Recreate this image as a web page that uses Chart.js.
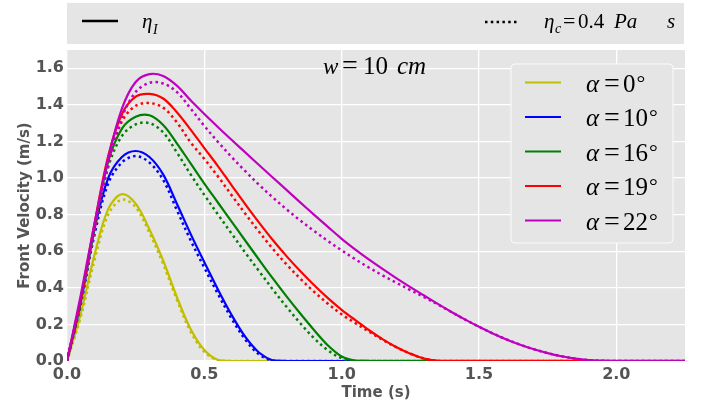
<!DOCTYPE html>
<html lang="en">
<head>
<meta charset="UTF-8">
<title>Front Velocity</title>
<script src="https://cdn.jsdelivr.net/npm/chart.js@4.4.0/dist/chart.umd.min.js"></script>
<style>
    html, body { margin: 0; padding: 0; background: #fff; }
    #wrap { width: 704px; height: 405px; }
</style>
</head>
<body>
<div id="wrap"><canvas id="velChart" width="704" height="405"></canvas></div>
<script>
    // time axis (s)
    const timeS = [0, 0.05, 0.1, 0.15, 0.2, 0.25, 0.3, 0.35, 0.4, 0.45,
                   0.5, 0.55, 0.6, 0.65, 0.7, 0.75, 0.8, 0.85, 0.9, 0.95,
                   1.0, 1.05, 1.1, 1.15, 1.2, 1.25, 1.3, 1.35, 1.4, 1.45,
                   1.5, 1.55, 1.6, 1.65, 1.7, 1.75, 1.8, 1.85, 1.9, 1.95,
                   2.0, 2.05, 2.1, 2.15, 2.2, 2.25];

    const alphaDeg = [0, 10, 16, 19, 22];
    const lineColors = ['#bfbf00', '#0000ff', '#008000', '#ff0000', '#bf00bf'];

    // front velocity (m/s), eta_I (solid)
    const etaI_a0  = [0, 0.26, 0.58, 0.83, 0.912, 0.86, 0.72, 0.55, 0.35, 0.175, 0.06, 0.005, 0, 0, 0, 0, 0, 0, 0, 0, 0, 0, 0, 0, 0, 0, 0, 0, 0, 0, 0, 0, 0, 0, 0, 0, 0, 0, 0, 0, 0, 0, 0, 0, 0, 0];
    const etaI_a10 = [0, 0.32, 0.72, 1.00, 1.115, 1.148, 1.115, 1.02, 0.86, 0.695, 0.54, 0.39, 0.25, 0.13, 0.045, 0.003, 0, 0, 0, 0, 0, 0, 0, 0, 0, 0, 0, 0, 0, 0, 0, 0, 0, 0, 0, 0, 0, 0, 0, 0, 0, 0, 0, 0, 0, 0];
    const etaI_a16 = [0, 0.33, 0.73, 1.09, 1.27, 1.335, 1.343, 1.29, 1.19, 1.08, 0.97, 0.865, 0.76, 0.656, 0.552, 0.45, 0.352, 0.258, 0.168, 0.085, 0.025, 0.002, 0, 0, 0, 0, 0, 0, 0, 0, 0, 0, 0, 0, 0, 0, 0, 0, 0, 0, 0, 0, 0, 0, 0, 0];
    const etaI_a19 = [0, 0.34, 0.75, 1.12, 1.35, 1.445, 1.46, 1.435, 1.36, 1.265, 1.164, 1.064, 0.959, 0.855, 0.755, 0.66, 0.572, 0.49, 0.414, 0.344, 0.28, 0.223, 0.168, 0.118, 0.075, 0.04, 0.013, 0.001, 0, 0, 0, 0, 0, 0, 0, 0, 0, 0, 0, 0, 0, 0, 0, 0, 0, 0];
    const etaI_a22 = [0, 0.36, 0.75, 1.11, 1.38, 1.525, 1.568, 1.558, 1.505, 1.425, 1.35, 1.278, 1.208, 1.139, 1.07, 1.002, 0.934, 0.866, 0.799, 0.733, 0.668, 0.609, 0.554, 0.502, 0.452, 0.404, 0.358, 0.312, 0.268, 0.226, 0.187, 0.151, 0.118, 0.089, 0.064, 0.043, 0.026, 0.013, 0.005, 0.001, 0, 0, 0, 0, 0, 0];

    // front velocity (m/s), eta_c = 0.4 Pa s (dotted)
    const etaC_a0  = [0, 0.24, 0.55, 0.80, 0.882, 0.84, 0.70, 0.53, 0.335, 0.16, 0.05, 0.004, 0, 0, 0, 0, 0, 0, 0, 0, 0, 0, 0, 0, 0, 0, 0, 0, 0, 0, 0, 0, 0, 0, 0, 0, 0, 0, 0, 0, 0, 0, 0, 0, 0, 0];
    const etaC_a10 = [0, 0.31, 0.69, 0.97, 1.085, 1.12, 1.085, 0.99, 0.825, 0.66, 0.51, 0.365, 0.23, 0.115, 0.035, 0.002, 0, 0, 0, 0, 0, 0, 0, 0, 0, 0, 0, 0, 0, 0, 0, 0, 0, 0, 0, 0, 0, 0, 0, 0, 0, 0, 0, 0, 0, 0];
    const etaC_a16 = [0, 0.32, 0.71, 1.06, 1.23, 1.293, 1.30, 1.25, 1.14, 1.02, 0.908, 0.80, 0.695, 0.59, 0.49, 0.39, 0.295, 0.205, 0.124, 0.058, 0.015, 0, 0, 0, 0, 0, 0, 0, 0, 0, 0, 0, 0, 0, 0, 0, 0, 0, 0, 0, 0, 0, 0, 0, 0, 0];
    const etaC_a19 = [0, 0.33, 0.72, 1.09, 1.31, 1.395, 1.41, 1.385, 1.305, 1.195, 1.105, 1.008, 0.905, 0.803, 0.705, 0.612, 0.527, 0.449, 0.378, 0.313, 0.255, 0.207, 0.16, 0.115, 0.074, 0.04, 0.013, 0.001, 0, 0, 0, 0, 0, 0, 0, 0, 0, 0, 0, 0, 0, 0, 0, 0, 0, 0];
    const etaC_a22 = [0, 0.34, 0.72, 1.07, 1.33, 1.47, 1.52, 1.517, 1.47, 1.38, 1.285, 1.197, 1.114, 1.036, 0.962, 0.893, 0.828, 0.767, 0.71, 0.656, 0.605, 0.556, 0.51, 0.467, 0.427, 0.388, 0.349, 0.309, 0.267, 0.226, 0.187, 0.151, 0.118, 0.089, 0.064, 0.043, 0.026, 0.013, 0.005, 0.001, 0, 0, 0, 0, 0, 0];

    const solidSeries = [etaI_a0, etaI_a10, etaI_a16, etaI_a19, etaI_a22];
    const dottedSeries = [etaC_a0, etaC_a10, etaC_a16, etaC_a19, etaC_a22];

    const xTicks = [0, 0.5, 1.0, 1.5, 2.0];
    const yTicks = [0, 0.2, 0.4, 0.6, 0.8, 1.0, 1.2, 1.4, 1.6];

    const MATH = '"Liberation Serif", "DejaVu Serif", serif';
    const LABEL = '"DejaVu Sans", sans-serif';

    // draw a run of text pieces: [text, font, x, baselineY]
    function drawRuns(ctx, runs) {
        ctx.fillStyle = '#000';
        ctx.textAlign = 'left';
        ctx.textBaseline = 'alphabetic';
        runs.forEach(r => {
            ctx.font = r[1];
            ctx.fillText(r[0], r[2], r[3]);
        });
    }

    const datasets = [];
    alphaDeg.forEach((a, i) => {
        datasets.push({
            label: 'a' + a + ' I',
            data: timeS.map((t, k) => ({ x: t, y: solidSeries[i][k] })),
            borderColor: lineColors[i],
            borderWidth: 2.2,
            pointRadius: 0,
            tension: 0.35,
            order: (4 - i) * 2 + 1
        });
        datasets.push({
            label: 'a' + a + ' c',
            data: timeS.map((t, k) => ({ x: t, y: dottedSeries[i][k] })),
            borderColor: lineColors[i],
            borderWidth: 2.5,
            borderDash: [2.5, 3.3],
            pointRadius: 0,
            tension: 0.35,
            order: (4 - i) * 2
        });
    });

    const decorPlugin = {
        id: 'decor',
        beforeDraw(chart) {
            const { ctx, chartArea: ca } = chart;
            ctx.save();
            ctx.fillStyle = '#e5e5e5';
            ctx.fillRect(ca.left, ca.top, ca.right - ca.left, ca.bottom - ca.top);
            // top legend box
            ctx.fillRect(67, 3, 617, 41);
            ctx.restore();
        },
        afterDraw(chart) {
            const { ctx } = chart;
            ctx.save();
            // top legend
            ctx.strokeStyle = '#000';
            ctx.lineWidth = 2.5;
            ctx.beginPath(); ctx.moveTo(82, 21); ctx.lineTo(118, 21); ctx.stroke();
            ctx.setLineDash([2.5, 3.3]);
            ctx.beginPath(); ctx.moveTo(485, 22); ctx.lineTo(518, 22); ctx.stroke();
            ctx.setLineDash([]);
            drawRuns(ctx, [
                ['η', 'italic 21px ' + MATH, 142, 28],
                ['I', 'italic 14px ' + MATH, 153, 34],
                ['η', 'italic 21px ' + MATH, 544, 28],
                ['c', 'italic 14px ' + MATH, 555, 33],
                ['=', '22px ' + MATH, 563, 28],
                ['0.4', '21px ' + MATH, 578, 28],
                ['Pa', 'italic 21px ' + MATH, 614, 28],
                ['s', 'italic 21px ' + MATH, 667, 28]
            ]);

            // annotation
            drawRuns(ctx, [
                ['w', 'italic 23px ' + MATH, 323, 74],
                ['=', '28px ' + MATH, 342, 74],
                ['10', '25px ' + MATH, 363, 74],
                ['cm', 'italic 25px ' + MATH, 397, 74]
            ]);

            // alpha legend
            ctx.fillStyle = '#e5e5e5';
            ctx.strokeStyle = '#fafafa';
            ctx.lineWidth = 1;
            ctx.beginPath();
            ctx.roundRect(511, 64, 162, 179, 4);
            ctx.fill(); ctx.stroke();
            alphaDeg.forEach((a, i) => {
                const y = 82.5 + i * 34.5;
                ctx.strokeStyle = lineColors[i];
                ctx.lineWidth = 2.2;
                ctx.beginPath(); ctx.moveTo(525, y); ctx.lineTo(561, y); ctx.stroke();
                const base = y + 9;
                ctx.font = '25px ' + MATH;
                const numW = ctx.measureText(String(a)).width;
                drawRuns(ctx, [
                    ['α', 'italic 25px ' + MATH, 586, base],
                    ['=', '28px ' + MATH, 604, base],
                    [String(a), '25px ' + MATH, 623, base],
                    ['°', '22px ' + MATH, 623 + numW + 1, base - 2]
                ]);
            });
            ctx.restore();
        }
    };

    new Chart(document.getElementById('velChart').getContext('2d'), {
        type: 'line',
        data: { datasets: datasets },
        options: {
            responsive: false,
            animation: false,
            layout: { padding: { top: 50, right: 19, left: 0, bottom: 0 } },
            plugins: { legend: { display: false }, tooltip: { enabled: false } },
            scales: {
                x: {
                    type: 'linear', min: 0, max: 2.25,
                    afterFit(s) { s.height = 44; },
                    afterBuildTicks(s) { s.ticks = xTicks.map(v => ({ value: v })); },
                    grid: { color: '#ffffff', lineWidth: 1.3, drawTicks: false },
                    border: { display: false },
                    ticks: {
                        padding: 4, color: '#555', maxRotation: 0, autoSkip: false,
                        font: { family: LABEL, weight: 'bold', size: 16 },
                        callback: v => v.toFixed(1)
                    },
                    title: {
                        display: true, text: 'Time (s)', color: '#555',
                        font: { family: LABEL, weight: 'bold', size: 15 },
                        padding: { top: 0, bottom: 3 }
                    }
                },
                y: {
                    min: 0, max: 1.7,
                    afterFit(s) { s.width = 67; },
                    afterBuildTicks(s) { s.ticks = yTicks.map(v => ({ value: v })); },
                    grid: { color: '#ffffff', lineWidth: 1.3, drawTicks: false },
                    border: { display: false },
                    ticks: {
                        padding: 3, color: '#555', autoSkip: false,
                        font: { family: LABEL, weight: 'bold', size: 16 },
                        callback: v => v.toFixed(1)
                    },
                    title: {
                        display: true, text: 'Front Velocity (m/s)', color: '#555',
                        font: { family: LABEL, weight: 'bold', size: 15 },
                        padding: { top: 16, bottom: 0 }
                    }
                }
            }
        },
        plugins: [decorPlugin]
    });
</script>
</body>
</html>
